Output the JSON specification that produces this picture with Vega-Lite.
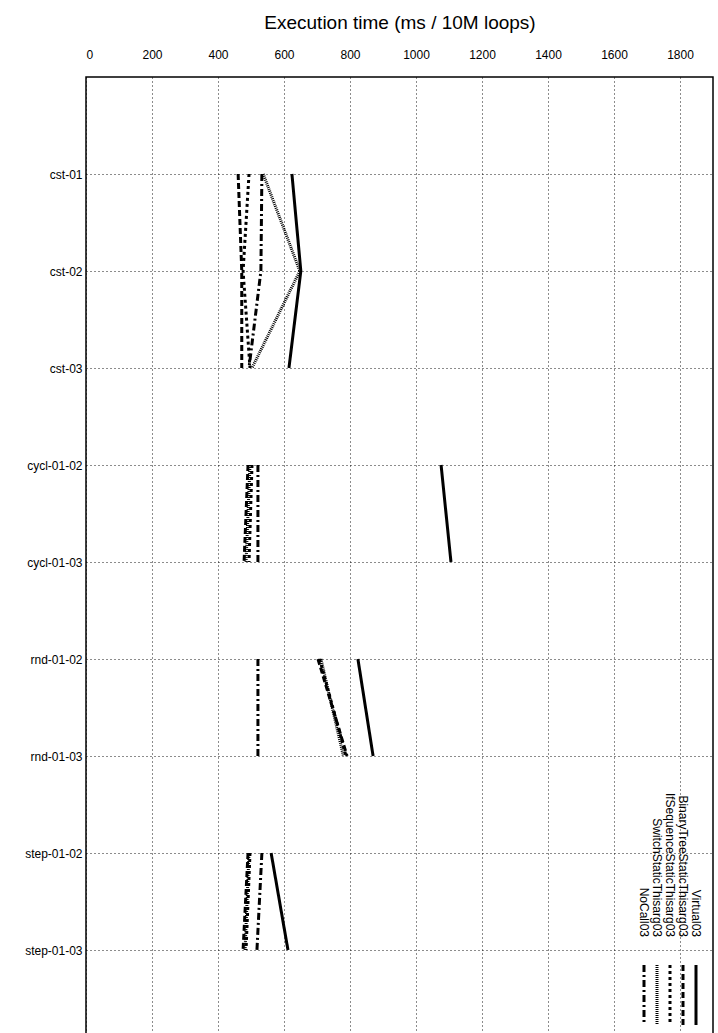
{
  "$schema": "https://vega.github.io/schema/vega-lite/v6.json",
  "width": 627,
  "height": 970,
  "autosize": {"type": "none"},
  "padding": {"left": 86, "top": 77, "right": 5, "bottom": 0},
  "background": "white",
  "datasets": {
    "times": [
      {"grp": "cst", "cat": "cst-01", "series": "Virtual03", "v": 624},
      {"grp": "cst", "cat": "cst-02", "series": "Virtual03", "v": 651},
      {"grp": "cst", "cat": "cst-03", "series": "Virtual03", "v": 615},
      {"grp": "cycl", "cat": "cycl-01-02", "series": "Virtual03", "v": 1076},
      {"grp": "cycl", "cat": "cycl-01-03", "series": "Virtual03", "v": 1106},
      {"grp": "rnd", "cat": "rnd-01-02", "series": "Virtual03", "v": 824},
      {"grp": "rnd", "cat": "rnd-01-03", "series": "Virtual03", "v": 870},
      {"grp": "step", "cat": "step-01-02", "series": "Virtual03", "v": 561},
      {"grp": "step", "cat": "step-01-03", "series": "Virtual03", "v": 612},
      {"grp": "cst", "cat": "cst-01", "series": "BinaryTreeStaticThisarg03", "v": 461},
      {"grp": "cst", "cat": "cst-02", "series": "BinaryTreeStaticThisarg03", "v": 472},
      {"grp": "cst", "cat": "cst-03", "series": "BinaryTreeStaticThisarg03", "v": 472},
      {"grp": "cycl", "cat": "cycl-01-02", "series": "BinaryTreeStaticThisarg03", "v": 491},
      {"grp": "cycl", "cat": "cycl-01-03", "series": "BinaryTreeStaticThisarg03", "v": 479},
      {"grp": "rnd", "cat": "rnd-01-02", "series": "BinaryTreeStaticThisarg03", "v": 703},
      {"grp": "rnd", "cat": "rnd-01-03", "series": "BinaryTreeStaticThisarg03", "v": 791},
      {"grp": "step", "cat": "step-01-02", "series": "BinaryTreeStaticThisarg03", "v": 491},
      {"grp": "step", "cat": "step-01-03", "series": "BinaryTreeStaticThisarg03", "v": 476},
      {"grp": "cst", "cat": "cst-01", "series": "IfSequenceStaticThisarg03", "v": 494},
      {"grp": "cst", "cat": "cst-02", "series": "IfSequenceStaticThisarg03", "v": 476},
      {"grp": "cst", "cat": "cst-03", "series": "IfSequenceStaticThisarg03", "v": 497},
      {"grp": "cycl", "cat": "cycl-01-02", "series": "IfSequenceStaticThisarg03", "v": 503},
      {"grp": "cycl", "cat": "cycl-01-03", "series": "IfSequenceStaticThisarg03", "v": 494},
      {"grp": "rnd", "cat": "rnd-01-02", "series": "IfSequenceStaticThisarg03", "v": 708},
      {"grp": "rnd", "cat": "rnd-01-03", "series": "IfSequenceStaticThisarg03", "v": 788},
      {"grp": "step", "cat": "step-01-02", "series": "IfSequenceStaticThisarg03", "v": 497},
      {"grp": "step", "cat": "step-01-03", "series": "IfSequenceStaticThisarg03", "v": 485},
      {"grp": "cst", "cat": "cst-01", "series": "SwitchStaticThisarg03", "v": 537},
      {"grp": "cst", "cat": "cst-02", "series": "SwitchStaticThisarg03", "v": 648},
      {"grp": "cst", "cat": "cst-03", "series": "SwitchStaticThisarg03", "v": 503},
      {"grp": "cycl", "cat": "cycl-01-02", "series": "SwitchStaticThisarg03", "v": 497},
      {"grp": "cycl", "cat": "cycl-01-03", "series": "SwitchStaticThisarg03", "v": 485},
      {"grp": "rnd", "cat": "rnd-01-02", "series": "SwitchStaticThisarg03", "v": 712},
      {"grp": "rnd", "cat": "rnd-01-03", "series": "SwitchStaticThisarg03", "v": 780},
      {"grp": "step", "cat": "step-01-02", "series": "SwitchStaticThisarg03", "v": 494},
      {"grp": "step", "cat": "step-01-03", "series": "SwitchStaticThisarg03", "v": 482},
      {"grp": "cst", "cat": "cst-01", "series": "NoCall03", "v": 533},
      {"grp": "cst", "cat": "cst-02", "series": "NoCall03", "v": 530},
      {"grp": "cst", "cat": "cst-03", "series": "NoCall03", "v": 494},
      {"grp": "cycl", "cat": "cycl-01-02", "series": "NoCall03", "v": 521},
      {"grp": "cycl", "cat": "cycl-01-03", "series": "NoCall03", "v": 521},
      {"grp": "rnd", "cat": "rnd-01-02", "series": "NoCall03", "v": 521},
      {"grp": "rnd", "cat": "rnd-01-03", "series": "NoCall03", "v": 521},
      {"grp": "step", "cat": "step-01-02", "series": "NoCall03", "v": 533},
      {"grp": "step", "cat": "step-01-03", "series": "NoCall03", "v": 518}
    ],
    "keys": [
      {"series": "Virtual03", "order": 0},
      {"series": "BinaryTreeStaticThisarg03", "order": 1},
      {"series": "IfSequenceStaticThisarg03", "order": 2},
      {"series": "SwitchStaticThisarg03", "order": 3},
      {"series": "NoCall03", "order": 4}
    ]
  },
  "layer": [
    {
      "data": {"name": "times"},
      "mark": {"type": "line", "color": "black", "strokeWidth": 3, "clip": true},
      "encoding": {
        "x": {
          "field": "v", "type": "quantitative",
          "scale": {"domain": [0, 1900], "nice": false},
          "axis": {
            "orient": "top", "values": [0, 200, 400, 600, 800, 1000, 1200, 1400, 1600, 1800], "format": "d",
            "title": "Execution time (ms / 10M loops)", "titleFontSize": 19, "titleFontWeight": "normal",
            "titlePadding": 16, "labelFontSize": 12, "labelPadding": 16, "ticks": false,
            "domain": false, "grid": true, "gridColor": "black", "gridDash": [1, 3], "gridOpacity": 0.9,
            "labelColor": "black", "titleColor": "black"
          }
        },
        "y": {
          "field": "cat", "type": "ordinal",
          "scale": {"type": "point", "padding": 1},
          "axis": {
            "title": null, "labelFontSize": 12, "labelPadding": 4, "ticks": false,
            "domain": false, "grid": true, "gridColor": "black", "gridDash": [1, 3], "gridOpacity": 0.9,
            "labelColor": "black"
          }
        },
        "detail": {"field": "grp"},
        "strokeDash": {
          "field": "series", "type": "nominal",
          "scale": {
            "domain": ["Virtual03", "BinaryTreeStaticThisarg03", "IfSequenceStaticThisarg03", "SwitchStaticThisarg03", "NoCall03"],
            "range": [[1, 0], [6, 3], [3, 3], [1, 1], [7, 3, 2, 3]]
          },
          "legend": null
        },
        "order": {"field": "cat"}
      }
    },
    {
      "data": {"name": "keys"},
      "mark": {"type": "text", "angle": 90, "align": "right", "baseline": "middle", "fontSize": 12, "color": "black"},
      "encoding": {
        "x": {"field": "order", "type": "quantitative", "scale": {"domain": [0, 4], "range": [610, 558]}, "axis": null},
        "y": {"datum": 860, "type": "quantitative", "scale": {"domain": [0, 970], "reverse": true}, "axis": null},
        "text": {"field": "series"}
      }
    },
    {
      "data": {"name": "keys"},
      "mark": {"type": "rule", "color": "black", "strokeWidth": 3},
      "encoding": {
        "x": {"field": "order", "type": "quantitative", "scale": {"domain": [0, 4], "range": [610, 558]}, "axis": null},
        "y": {"datum": 888, "type": "quantitative", "scale": {"domain": [0, 970], "reverse": true}, "axis": null},
        "y2": {"datum": 948},
        "strokeDash": {
          "field": "series", "type": "nominal",
          "scale": {
            "domain": ["Virtual03", "BinaryTreeStaticThisarg03", "IfSequenceStaticThisarg03", "SwitchStaticThisarg03", "NoCall03"],
            "range": [[1, 0], [6, 3], [3, 3], [1, 1], [7, 3, 2, 3]]
          },
          "legend": null
        }
      }
    }
  ],
  "resolve": {"scale": {"x": "independent", "y": "independent", "strokeDash": "shared"}, "axis": {"x": "independent", "y": "independent"}},
  "config": {
    "font": "Liberation Sans",
    "view": {"stroke": "black", "strokeWidth": 1.5}
  }
}
